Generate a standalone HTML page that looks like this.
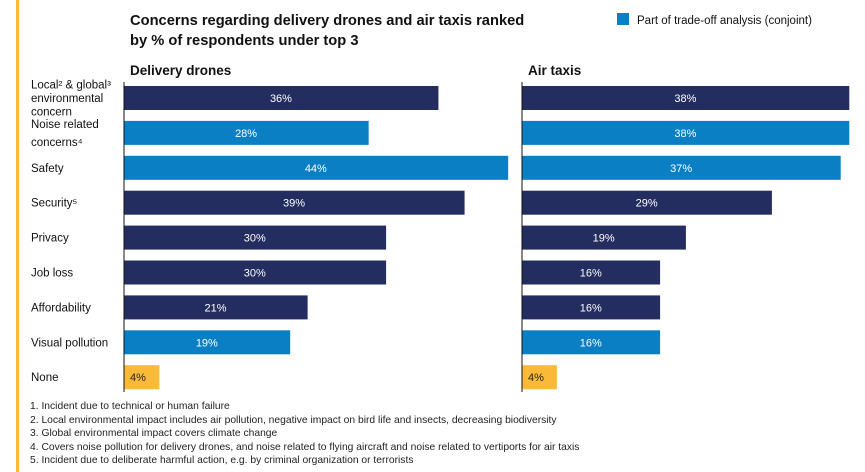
<!DOCTYPE html>
<html><head><meta charset="utf-8"><style>
body{margin:0;width:865px;height:472px;background:#fff;font-family:"Liberation Sans",sans-serif;overflow:hidden;position:relative}
svg{position:absolute;left:0;top:0}
</style></head><body>
<svg width="865" height="472" id="svg" font-family="Liberation Sans, sans-serif">
<rect x="16" y="0" width="3" height="472" fill="#fbb93a"/>
<text x="130" y="25" font-size="14.7" font-weight="bold" fill="#111">Concerns regarding delivery drones and air taxis ranked</text>
<text x="130" y="45" font-size="14.7" font-weight="bold" fill="#111">by % of respondents under top 3</text>
<rect x="617" y="13" width="12" height="12" fill="#0b7fc3"/>
<text x="637" y="24" font-size="11.5" fill="#111">Part of trade-off analysis (conjoint)</text>
<text x="130" y="75" font-size="13.5" font-weight="bold" fill="#111">Delivery drones</text>
<text x="528" y="75" font-size="13.5" font-weight="bold" fill="#111">Air taxis</text>
<g id="g"></g>
<g font-size="10.3" fill="#222">
<text x="30" y="409">1.  Incident due to technical or human failure</text>
<text x="30" y="423">2.  Local environmental impact includes air pollution, negative impact on bird life and insects, decreasing biodiversity</text>
<text x="30" y="436">3.  Global environmental impact covers climate change</text>
<text x="30" y="450">4.  Covers noise pollution for delivery drones, and noise related to flying aircraft and noise related to vertiports for air taxis</text>
<text x="30" y="463">5.  Incident due to deliberate harmful action, e.g. by criminal organization or terrorists</text>
</g>
</svg>
<script>
const categories=[["Local² & global³","environmental","concern"],["Noise related","concerns⁴"],["Safety"],["Security⁵"],["Privacy"],["Job loss"],["Affordability"],["Visual pollution"],["None"]];
const droneValues=[36,28,44,39,30,30,21,19,4];
const taxiValues=[38,38,37,29,19,16,16,16,4];
const kinds=["dark","blue","blue","dark","dark","dark","dark","blue","none"];
const colors={dark:"#232d5f",blue:"#0b7fc3",none:"#fbb93a"};
const NS="http://www.w3.org/2000/svg";
const g=document.getElementById("g");
function yCenter(i){return 98+i*34.9;}
function xScaleD(v){return v*8.72;}
function xScaleT(v){return v*8.6;}
function mk(t,a){const e=document.createElementNS(NS,t);for(const k in a)e.setAttribute(k,a[k]);g.appendChild(e);return e;}
categories.forEach((c,i)=>{
  const y=yCenter(i);
  const n=c.length;
  const lh=n===3?13.5:n===2?18:0;
  c.forEach((s,j)=>{
    const t=mk("text",{x:31,y:y+4-(n-1)*lh/2+j*lh,"font-size":11.5,fill:"#111"});
    t.textContent=s;
    
    
  });
});
[[124,droneValues,"drones",xScaleD],[522,taxiValues,"air-taxis",xScaleT]].forEach(([x0,vals,nm,sc])=>{
  const ax=mk("line",{x1:x0,x2:x0,y1:82,y2:392,stroke:"#111","stroke-width":1});
  
  
  vals.forEach((v,i)=>{
    const y=yCenter(i),w=sc(v);
    const r=mk("rect",{x:x0+0.5,y:y-12,width:w,height:24,fill:colors[kinds[i]]});
    
    
    const none=kinds[i]==="none";
    const t=mk("text",{x:none?x0+6:x0+w/2,y:y+4,"font-size":11,fill:none?"#222":"#fff","text-anchor":none?"start":"middle"});
    t.textContent=v+"%";
    
    
  });
});
</script>
</body></html>
